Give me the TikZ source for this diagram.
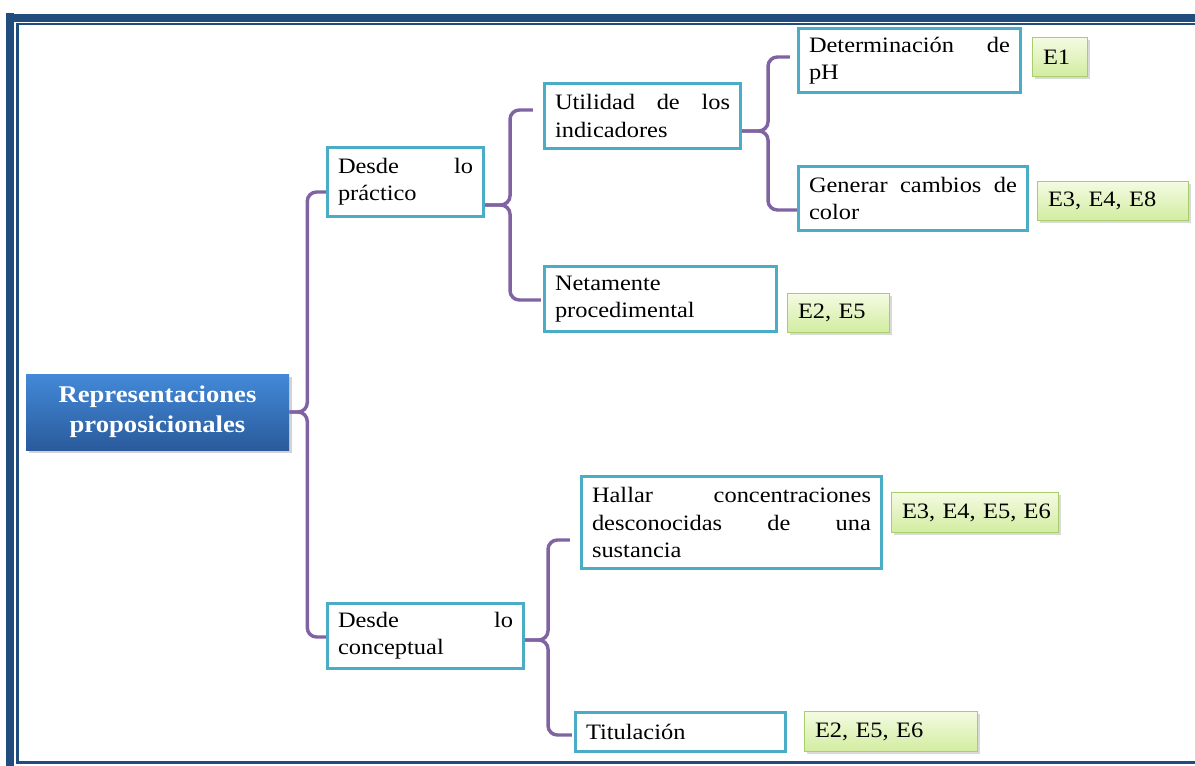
\documentclass[tikz,border=0pt]{standalone}
\usepackage{fontspec}
\setmainfont[FakeStretch=1.11]{Liberation Serif}
\usetikzlibrary{shadows}

\definecolor{framebl}{HTML}{214C7E}
\definecolor{boxline}{HTML}{4BACC6}
\definecolor{connline}{HTML}{8064A2}
\definecolor{rootTop}{HTML}{4389D8}
\definecolor{rootBot}{HTML}{2A5B9C}
\definecolor{tagTop}{HTML}{F4FBE2}
\definecolor{tagBot}{HTML}{D2ECA0}
\definecolor{tagLine}{HTML}{A8CE6C}

% a justified first line spread over the whole text width
\newcommand{\jline}[1]{\makebox[\hsize]{#1}}

\tikzset{
  % outer width and height of a box, in picture units (1 unit = 0.75pt)
  boxsz/.style 2 args={minimum width=(#1-3)*0.75pt, minimum height=(#2-3)*0.75pt,
    text width=(#1-24)*0.75pt},
  tagsz/.style 2 args={minimum width=(#1-1)*0.75pt, minimum height=(#2-1)*0.75pt,
    text width=(#1-22)*0.75pt},
  rootbox/.style={minimum width=263*0.75pt, minimum height=76*0.75pt, inner sep=0pt,
    top color=rootTop, bottom color=rootBot, draw=none,
    drop shadow={shadow xshift=2pt, shadow yshift=-2.5pt, opacity=0.35},
    text=white, align=center, font=\fontsize{18}{22.5}\selectfont\bfseries},
  ideabox/.style={draw=boxline, line width=2.3pt, fill=white, inner sep=0pt,
    align=left, font=\fontsize{16.5}{20.5}\selectfont},
  tagbox/.style={draw=tagLine, line width=0.8pt, top color=tagTop, bottom color=tagBot,
    inner sep=0pt, align=left, font=\fontsize{16.5}{20.5}\selectfont,
    drop shadow={shadow xshift=1.5pt, shadow yshift=-2pt, opacity=0.3}},
  conn/.style={draw=connline, line width=2.6pt, rounded corners=7pt}
}

\begin{document}
\begin{tikzpicture}[x=0.75pt, y=-0.75pt]
\useasboundingbox (0,0) rectangle (1195,766);

% page frame: heavy outer band and thin inner rule
\fill[framebl] (6,13) rectangle (14,766);
\fill[framebl] (6,14) rectangle (1195,22);
\fill[framebl] (16,23) rectangle (1195,25.5);
\fill[framebl] (16,23) rectangle (18.5,763.5);
\fill[framebl] (16,761) rectangle (1195,763.5);

% main topic
\node[rootbox] (root) at (157.5,412) {Representaciones\\proposicionales};

% first level
\node[ideabox, boxsz={159}{72}] (p) at (405.5,182)
  {\jline{Desde\hfill lo}\\práctico};
\node[ideabox, boxsz={199}{68}] (c) at (425.5,636)
  {\jline{Desde\hfill lo}\\conceptual};

% second level
\node[ideabox, boxsz={199}{68}] (u) at (642.5,116)
  {\jline{Utilidad\hfill de\hfill los}\\indicadores};
\node[ideabox, boxsz={235}{68}] (n) at (660.5,299)
  {Netamente\\procedimental};
\node[ideabox, boxsz={303}{95}] (h) at (731.5,522.5)
  {\jline{Hallar\hfill concentraciones}\\\jline{desconocidas\hfill de\hfill una}\\sustancia};
\node[ideabox, boxsz={213}{42}] (t) at (680.5,732)
  {Titulación};

% third level
\node[ideabox, boxsz={225}{67}] (d) at (909.5,60.5)
  {\jline{Determinación\hfill de}\\pH};
\node[ideabox, boxsz={232}{67}] (g) at (913,198.5)
  {\jline{Generar\hfill cambios\hfill de}\\color};

% evidence tags
\node[tagbox, tagsz={56}{40}] (e1) at (1060,57) {\mbox{E1}};
\node[tagbox, tagsz={152}{40}] (e2) at (1113,201) {\mbox{E3, E4, E8}};
\node[tagbox, tagsz={103}{40}] (e3) at (838.5,313) {\mbox{E2, E5}};
\node[tagbox, tagsz={168}{41}] (e4) at (975,512.5) {\mbox{E3, E4, E5, E6}};
\node[tagbox, tagsz={174}{41}] (e5) at (891,731.5) {\mbox{E2, E5, E6}};

% brace connectors
\draw[conn] (root.east) -- ++(18,0) |- ([shift={(0,10)}]p.west);
\draw[conn] (root.east) -- ++(18,0) |- ([shift={(0,1)}]c.west);

\draw[conn] ([shift={(0,23)}]p.east) -- ++(25,0) |- ([shift={(-10,-6)}]u.west);
\draw[conn] ([shift={(0,23)}]p.east) -- ++(25,0) |- ([shift={(-2,1)}]n.west);

\draw[conn] ([shift={(0,15)}]u.east) -- ++(26,0) |- ([shift={(-7,-3.5)}]d.west);
\draw[conn] ([shift={(0,15)}]u.east) -- ++(26,0) |- ([shift={(0,11.5)}]g.west);

\draw[conn] ([shift={(0,4)}]c.east) -- ++(23,0) |- ([shift={(-10,17.5)}]h.west);
\draw[conn] ([shift={(0,4)}]c.east) -- ++(23,0) |- ([shift={(-2,3)}]t.west);

\end{tikzpicture}
\end{document}
